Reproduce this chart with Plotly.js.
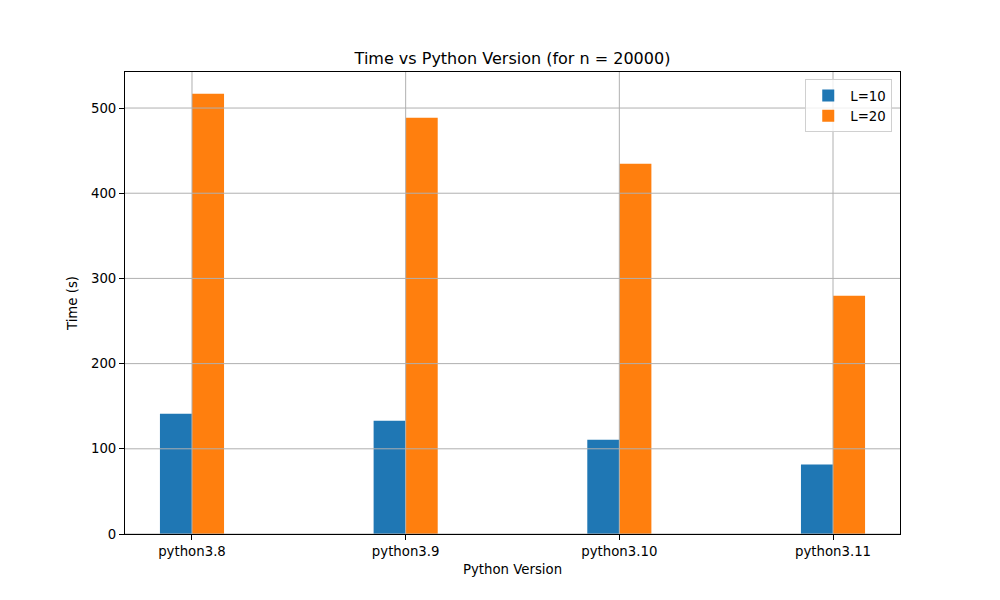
<!DOCTYPE html>
<html>
<head>
<meta charset="utf-8">
<script src="https://cdn.plot.ly/plotly-3.0.1.min.js"></script>
<style>body{margin:0;padding:0;background:#fff;}#chart{width:1000px;height:600px;}</style>
</head>
<body>
<div id="chart"></div>
<script>
const categories = ["python3.8", "python3.9", "python3.10", "python3.11"];
const timeL10 = [141.2, 133.0, 110.7, 81.6];
const timeL20 = [516.8, 488.6, 434.6, 279.7];
const seriesNames = ["L=10", "L=20"];
const yTicks = [0, 100, 200, 300, 400, 500];

const font = "DejaVu Sans, sans-serif";
const gridColor = "#b0b0b0";

const shapes = [];
yTicks.forEach(v => shapes.push({type: "line", xref: "paper", yref: "y", x0: 0, x1: 1, y0: v, y1: v,
  line: {color: gridColor, width: 1}, layer: "above"}));
categories.forEach(c => shapes.push({type: "line", xref: "x", yref: "paper", x0: c, x1: c, y0: 0, y1: 1,
  line: {color: gridColor, width: 1}, layer: "above"}));

const data = [
  {type: "bar", name: seriesNames[0], x: categories, y: timeL10, marker: {color: "#1f77b4", line: {width: 0}}},
  {type: "bar", name: seriesNames[1], x: categories, y: timeL20, marker: {color: "#ff7f0e", line: {width: 0}}}
];

const layout = {
  width: 1000, height: 600,
  paper_bgcolor: "#fff", plot_bgcolor: "#fff",
  margin: {l: 125, r: 100, t: 72, b: 66},
  font: {family: font, size: 13.3, color: "#000"},
  title: {text: "Time vs Python Version (for n = 20000)", font: {family: font, size: 16, color: "#000"},
          x: 0.5125, xanchor: "center", y: 1 - 58/600, yanchor: "middle"},
  barmode: "group", bargap: 0.7, bargroupgap: 0,
  xaxis: {type: "category", range: [-0.3135, 3.3135], showgrid: false, zeroline: false,
          showline: true, mirror: true, linecolor: "#000", linewidth: 1,
          ticks: "outside", ticklen: 5, tickcolor: "#000", tickfont: {family: font, size: 13.3},
          title: {text: "Python Version", font: {family: font, size: 13.3}, standoff: 6}},
  yaxis: {range: [0, 542.3], tickvals: yTicks, showgrid: false, zeroline: false,
          showline: true, mirror: true, linecolor: "#000", linewidth: 1,
          ticks: "outside", ticklen: 5, tickcolor: "#000", tickfont: {family: font, size: 13.3},
          title: {text: "Time (s)", font: {family: font, size: 13.3}, standoff: 10}},
  legend: {x: 0.99, xanchor: "right", y: 0.984, yanchor: "top", bgcolor: "rgba(255,255,255,0.8)",
           bordercolor: "#d0d0d0", borderwidth: 1, font: {family: font, size: 13.3}, tracegroupgap: 2,
           itemwidth: 34},
  shapes: shapes,
  showlegend: true
};

Plotly.newPlot("chart", data, layout, {displayModeBar: false, staticPlot: true});
</script>
</body>
</html>
